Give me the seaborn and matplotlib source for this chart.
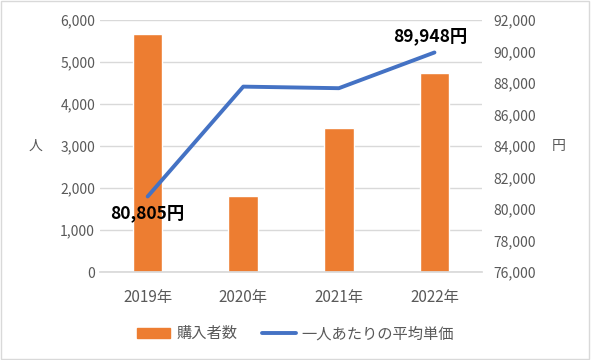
import seaborn as sns
import matplotlib.pyplot as plt
from matplotlib.patches import Rectangle
from matplotlib.lines import Line2D
from matplotlib.patches import Patch
import pandas as pd

years = ["2019年", "2020年", "2021年", "2022年"]
buyers = [5660, 1810, 3430, 4740]
avg_price = [80805, 87780, 87680, 89948]

BAR = "#ED7D31"
LINE = "#4472C4"
GRAY = "#595959"

sns.set_theme(style="white")
plt.rcParams["font.family"] = ["Noto Sans CJK JP", "DejaVu Sans"]

df = pd.DataFrame({"year": years, "buyers": buyers, "price": avg_price})

fig = plt.figure(figsize=(5.91, 3.6), dpi=100)
ax = fig.add_axes([0.169, 0.244, 0.647, 0.7])

sns.barplot(data=df, x="year", y="buyers", color=BAR, width=0.31, saturation=1, ax=ax)
ax.set_ylim(0, 6000)
ax.set_yticks(range(0, 6001, 1000))
ax.set_yticklabels([f"{v:,}" for v in range(0, 6001, 1000)])
ax.yaxis.grid(True, color="#D9D9D9", linewidth=1)
ax.set_axisbelow(True)
for s in ["top", "right", "left"]:
    ax.spines[s].set_visible(False)
ax.spines["bottom"].set_color("#D9D9D9")
ax.tick_params(axis="both", length=0, labelcolor=GRAY, labelsize=10)
ax.tick_params(axis="x", pad=12, labelsize=11)
ax.set_xlabel("")
ax.set_ylabel("人", rotation=0, color=GRAY, fontsize=10, labelpad=18, va="center")

ax2 = ax.twinx()
sns.lineplot(data=df, x="year", y="price", color=LINE, linewidth=2.8, ax=ax2)
ax2.set_ylim(76000, 92000)
ax2.set_yticks(range(76000, 92001, 2000))
ax2.set_yticklabels([f"{v:,}" for v in range(76000, 92001, 2000)])
for s in ["top", "right", "left", "bottom"]:
    ax2.spines[s].set_visible(False)
ax2.tick_params(axis="y", length=0, labelcolor=GRAY, labelsize=10, pad=8)
ax2.set_ylabel("円", rotation=0, color=GRAY, fontsize=10, labelpad=16, va="center")
ax.set_xlim(-0.5, 3.5)

ax2.annotate(f"{avg_price[0]:,}円", (0, avg_price[0]), xytext=(0, -12), textcoords="offset points",
             ha="center", va="center", fontsize=12.5, fontweight="bold", color="black")
ax2.annotate(f"{avg_price[-1]:,}円", (3, avg_price[-1]), xytext=(-3, 12), textcoords="offset points",
             ha="center", va="center", fontsize=12.5, fontweight="bold", color="black")

handles = [Patch(color=BAR, label="購入者数"),
           Line2D([], [], color=LINE, linewidth=2.8, label="一人あたりの平均単価")]
leg = fig.legend(handles=handles, loc="center", bbox_to_anchor=(0.5, 0.073), ncol=2,
                 frameon=False, fontsize=11, handlelength=2.2, columnspacing=1.6, handletextpad=0.4)
for t in leg.get_texts():
    t.set_color(GRAY)

fig.patches.append(Rectangle((0.002, 0.003), 0.995, 0.993, transform=fig.transFigure,
                             fill=False, edgecolor="#D9D9D9", linewidth=1))

fig.savefig("out.png", dpi=100)
